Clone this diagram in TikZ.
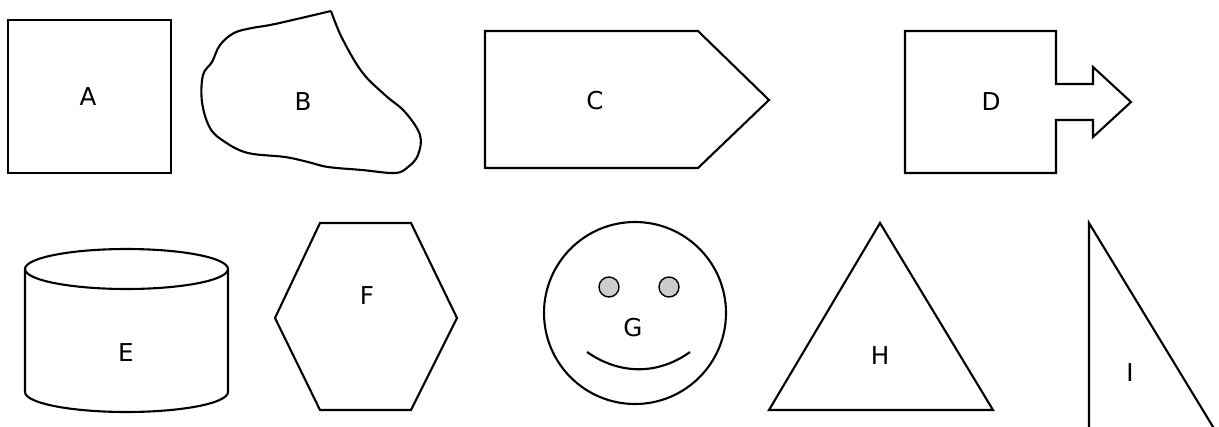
\documentclass[tikz,border=0pt]{standalone}
\usepackage{fontspec}
\setmainfont{DejaVu Sans}
\tikzset{
  outline/.style={line width=1.2pt, line join=miter},
  letter/.style={font=\fontsize{14}{16}\selectfont},
  eye/.style={outline, line width=0.8pt, fill=lightgray!80}
}
\begin{document}
\begin{tikzpicture}[x=0.02cm, y=-0.02cm]
\clip (0,0) rectangle (1219,426);
% top row
\draw[outline] (8,20) rectangle (171,173);
\node[letter] (labA) at (88,97) {A};
\draw[outline] plot[smooth, tension=0.6] coordinates {
    (331,11) (342,38) (362,72) (385,95) (405,112) (420,135) (418,155)
    (408,167) (395,173) (362,170) (328,167) (308,162) (285,157) (248,153)
    (225,142) (210,128) (202,102) (203,75) (212,62) (220,45) (234,33)
    (252,28) (275,24) (331,11)};
\node[letter] (labB) at (303,102) {B};
\draw[outline] (485,31)--(698,31)--(769,100)--(698,168)--(485,168)--cycle;
\node[letter] (labC) at (595,101) {C};
\draw[outline] (905,31)--(1056,31)--(1056,84)--(1093,84)--(1093,67)--(1131,102)
    --(1093,137)--(1093,120)--(1056,120)--(1056,173)--(905,173)--cycle;
\node[letter] (labD) at (991,102) {D};
% bottom row
\draw[outline] (25,269)--(25,392) arc[start angle=180, end angle=360, x radius=101.5, y radius=-20]
    --(228,269);
\draw[outline] (126.5,269) ellipse[x radius=101.5, y radius=20];
\node[letter] (labE) at (126,353) {E};
\draw[outline] (275,318)--(320,223)--(411,223)--(457,318)--(411,410)--(320,410)--cycle;
\node[letter] (labF) at (367,296) {F};
\draw[outline] (635,313) circle[radius=91];
\draw[eye] (609,287) circle[radius=10];
\draw[eye] (669,287) circle[radius=10];
\draw[outline] (587,352) .. controls (620,375) and (658,375) .. (690,352);
\node[letter] (labG) at (633,328) {G};
\draw[outline] (880,223)--(993,410)--(769,410)--cycle;
\node[letter] (labH) at (880,356) {H};
\draw[outline] (1089,440)--(1089,223)--(1221,440);
\node[letter] (labI) at (1130,373) {I};
\end{tikzpicture}
\end{document}
